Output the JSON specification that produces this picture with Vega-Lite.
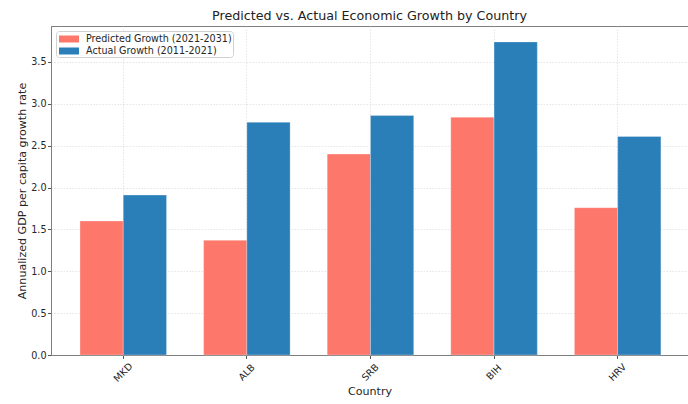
{
  "$schema": "https://vega.github.io/schema/vega-lite/v6.json",
  "width": 637,
  "height": 329,
  "autosize": {"type": "none"},
  "padding": {"left": 51, "top": 26, "right": 0, "bottom": 49},
  "background": "white",
  "title": {
    "text": "Predicted vs. Actual Economic Growth by Country",
    "fontSize": 12.7,
    "fontWeight": "normal",
    "color": "#222222",
    "anchor": "middle",
    "frame": "group",
    "baseline": "bottom",
    "offset": 3,
    "dy": 13
  },
  "data": {
    "values": [
      {"country": "MKD", "series": "Predicted Growth (2021-2031)", "growth": 1.60},
      {"country": "MKD", "series": "Actual Growth (2011-2021)", "growth": 1.91},
      {"country": "ALB", "series": "Predicted Growth (2021-2031)", "growth": 1.37},
      {"country": "ALB", "series": "Actual Growth (2011-2021)", "growth": 2.78},
      {"country": "SRB", "series": "Predicted Growth (2021-2031)", "growth": 2.40},
      {"country": "SRB", "series": "Actual Growth (2011-2021)", "growth": 2.86},
      {"country": "BIH", "series": "Predicted Growth (2021-2031)", "growth": 2.84},
      {"country": "BIH", "series": "Actual Growth (2011-2021)", "growth": 3.74},
      {"country": "HRV", "series": "Predicted Growth (2021-2031)", "growth": 1.76},
      {"country": "HRV", "series": "Actual Growth (2011-2021)", "growth": 2.61}
    ]
  },
  "mark": {"type": "bar", "stroke": "#ffffff", "strokeWidth": 0.8, "strokeOpacity": 0.35},
  "encoding": {
    "x": {
      "field": "country",
      "type": "nominal",
      "sort": ["MKD", "ALB", "SRB", "BIH", "HRV"],
      "scale": {"paddingInner": 0.3, "paddingOuter": 0.2269, "align": 0.517},
      "axis": {
        "title": "Country",
        "bandPosition": 0.5,
        "labelAngle": -45,
        "labelAlign": "center",
        "labelBaseline": "middle",
        "labelPadding": 13.5,
        "titlePadding": 2
      }
    },
    "xOffset": {
      "field": "series",
      "type": "nominal",
      "sort": ["Predicted Growth (2021-2031)", "Actual Growth (2011-2021)"],
      "scale": {"paddingInner": 0, "paddingOuter": 0}
    },
    "y": {
      "field": "growth",
      "type": "quantitative",
      "scale": {"domain": [0, 3.93], "nice": false, "zero": true},
      "axis": {
        "title": "Annualized GDP per capita growth rate",
        "values": [0, 0.5, 1, 1.5, 2, 2.5, 3, 3.5],
        "format": ".1f",
        "labelPadding": 1.5,
        "titlePadding": 3.5
      }
    },
    "color": {
      "field": "series",
      "type": "nominal",
      "scale": {
        "domain": ["Predicted Growth (2021-2031)", "Actual Growth (2011-2021)"],
        "range": ["#fe776b", "#2a7fb8"]
      },
      "legend": {
        "title": null,
        "orient": "none",
        "legendX": 5,
        "legendY": 5
      }
    }
  },
  "config": {
    "font": "DejaVu Sans",
    "view": {"stroke": "#7f7f7f", "strokeWidth": 1},
    "axis": {
      "labelFont": "DejaVu Sans",
      "labelFontSize": 9.6,
      "labelColor": "#262626",
      "titleFont": "DejaVu Sans",
      "titleFontSize": 11.1,
      "titleFontWeight": "normal",
      "titleColor": "#262626",
      "domainColor": "#7f7f7f",
      "tickColor": "#555555",
      "tickSize": 3.5,
      "grid": true,
      "gridColor": "#dedede",
      "gridDash": [1.5, 1.5],
      "gridWidth": 0.8
    },
    "legend": {
      "labelFont": "DejaVu Sans",
      "labelFontSize": 9.6,
      "labelColor": "#262626",
      "symbolType": "M-1.43,-0.5H1.43V0.5H-1.43Z",
      "symbolSize": 196,
      "symbolStrokeWidth": 0,
      "symbolOpacity": 1,
      "symbolOffset": 5,
      "labelOffset": 10,
      "rowPadding": 0,
      "padding": 1,
      "fillColor": "#ffffff",
      "strokeColor": "#d0d0d0",
      "cornerRadius": 3
    }
  }
}
